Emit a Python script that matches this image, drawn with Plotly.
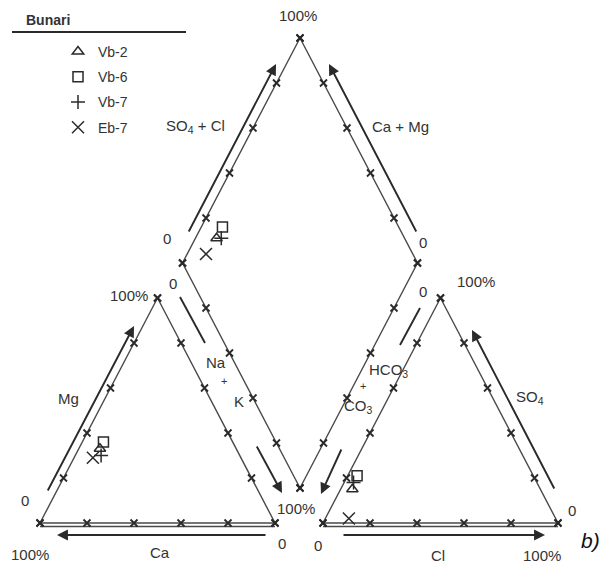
import plotly.graph_objects as go

# ---------------- data (meq %) ----------------
samples = ["Vb-2", "Vb-6", "Vb-7", "Eb-7"]
ca = [58, 55, 59, 63]
mg = [33, 36, 30, 29]
nak = [9, 9, 11, 8]
hco3 = [80, 75, 78, 88]
cl = [5, 4, 4, 10]
so4 = [15, 21, 18, 2]
tick_pcts = [0, 20, 40, 60, 80, 100]

symbols = ["triangle-up-open", "square-open", "cross-thin-open", "x-thin-open"]
sizes = [10, 10, 10, 12]

# ---------------- geometry (pixel space) ----------------
W, H = 235.0, 225.0
BASE_Y, LEFT_X0, RIGHT_X0 = 523.0, 40.0, 323.0
DIA_BX, DIA_BY = 300.0, 488.0
INK = "#2a2a2a"
FRAME = "#4a4a4a"
FONT = "Liberation Sans, Arial"
TXT = "#333333"
PAGE_PAD = 8  # default body margin of the html page


def cation_xy(c, m, n):
    t = c + m + n
    return LEFT_X0 + W * (n + m / 2) / t, BASE_Y - H * m / t


def anion_xy(h, c, s):
    t = h + c + s
    return RIGHT_X0 + W * (c + s / 2) / t, BASE_Y - H * s / t


def diamond_xy(camg, so4cl):
    return DIA_BX + W / 2 * (so4cl - camg), DIA_BY - H * (camg + so4cl)


fig = go.Figure()


def add_poly(pts, width=1.4, color=FRAME, dy=0.0):
    fig.add_trace(go.Scatter(x=[p[0] for p in pts], y=[p[1] + dy for p in pts], mode="lines",
                             line=dict(color=color, width=width), showlegend=False, hoverinfo="skip"))


lt = [cation_xy(100, 0, 0), cation_xy(0, 0, 100), cation_xy(0, 100, 0), cation_xy(100, 0, 0)]
rt = [anion_xy(100, 0, 0), anion_xy(0, 100, 0), anion_xy(0, 0, 100), anion_xy(100, 0, 0)]
dm = [diamond_xy(0, 0), diamond_xy(1, 0), diamond_xy(1, 1), diamond_xy(0, 1), diamond_xy(0, 0)]
add_poly(lt)
add_poly(rt)
add_poly(dm)
add_poly([cation_xy(100, 0, 0), cation_xy(0, 0, 100)], dy=3.5)
add_poly([anion_xy(100, 0, 0), anion_xy(0, 100, 0)], dy=3.5)

# tick marks every 20 %
tx, ty = [], []
for p in tick_pcts:
    q = 100 - p
    for pt in (cation_xy(p, 0, q), cation_xy(q, p, 0), cation_xy(0, p, q),
               anion_xy(p, q, 0), anion_xy(q, 0, p), anion_xy(0, q, p),
               diamond_xy(p / 100, 0), diamond_xy(p / 100, 1), diamond_xy(0, p / 100), diamond_xy(1, p / 100)):
        tx.append(pt[0]); ty.append(pt[1])
fig.add_trace(go.Scatter(x=tx, y=ty, mode="markers", showlegend=False, hoverinfo="skip",
                         marker=dict(symbol="x-thin", size=7, line=dict(color=INK, width=1.8))))

# samples
for i, name in enumerate(samples):
    p1 = cation_xy(ca[i], mg[i], nak[i])
    p2 = anion_xy(hco3[i], cl[i], so4[i])
    p3 = diamond_xy((ca[i] + mg[i]) / 100, (so4[i] + cl[i]) / 100)
    fig.add_trace(go.Scatter(
        x=[p1[0], p2[0], p3[0]], y=[p1[1], p2[1], p3[1]], mode="markers", name=name,
        legendgroup=name,
        marker=dict(symbol=symbols[i], size=sizes[i], color=INK, line=dict(color=INK, width=1.5))))

# arrows (tail -> head)
arrows = [
    ((47, 492), (134, 326)),   # Mg
    ((267, 535), (57, 535)),   # Ca
    ((342, 535), (545, 535)),  # Cl
    ((555, 490), (472, 330)),  # SO4
    ((188, 233), (276, 64)),   # SO4 + Cl
    ((417, 233), (329, 64)),   # Ca + Mg
    ((256, 445), (282, 493)),  # Na + K
    ((342, 448), (321, 494)),  # HCO3 + CO3
]
for (x0, y0), (x1, y1) in arrows:
    fig.add_annotation(x=x1, y=y1, ax=x0, ay=y0, xref="x", yref="y", axref="x", ayref="y",
                       text="", showarrow=True, arrowhead=2, arrowsize=1.15, arrowwidth=1.9,
                       arrowcolor=INK)
for (x0, y0), (x1, y1) in [((180, 297), (205, 343)), ((420, 308), (400, 345))]:
    fig.add_shape(type="line", x0=x0, y0=y0, x1=x1, y1=y1, xref="x", yref="y",
                  line=dict(color=INK, width=1.9))

labels = [
    ("Mg", 68, 398), ("Ca", 160, 552), ("Cl", 438, 555), ("SO<sub>4</sub>", 530, 397),
    ("SO<sub>4</sub> + Cl", 195, 126), ("Ca + Mg", 400, 126),
    ("Na", 216, 362), ("K", 239, 401),
    ("HCO<sub>3</sub>", 388, 370), ("CO<sub>3</sub>", 358, 406),
    ("0", 25, 500), ("0", 282, 543), ("0", 318, 545), ("0", 572, 510),
    ("0", 167, 238), ("0", 423, 242), ("0", 173, 283), ("0", 423, 291),
    ("100%", 30, 554), ("100%", 129, 295), ("100%", 296, 508), ("100%", 542, 555),
    ("100%", 476, 281), ("100%", 298, 15),
]
for t, x, y in labels:
    fig.add_annotation(x=x, y=y, xref="x", yref="y", text=t, showarrow=False,
                       font=dict(family=FONT, size=15, color=TXT))
for x, y in [(224, 381), (363, 386)]:
    fig.add_annotation(x=x, y=y, xref="x", yref="y", text="+", showarrow=False,
                       font=dict(family=FONT, size=11, color=TXT))

fig.add_annotation(x=590, y=540, xref="x", yref="y", text="<i>b)</i>", showarrow=False,
                   font=dict(family=FONT, size=21, color="#111111"))
fig.add_annotation(x=48, y=20, xref="x", yref="y", text="<b>Bunari</b>", showarrow=False,
                   font=dict(family=FONT, size=14, color=TXT))
fig.add_shape(type="line", x0=12, y0=32, x1=186, y1=32, xref="x", yref="y",
              line=dict(color=INK, width=2))

VIEW_W, VIEW_H = 610, 574
fig.update_layout(
    width=VIEW_W - PAGE_PAD, height=VIEW_H - PAGE_PAD, margin=dict(l=0, r=0, t=0, b=0),
    paper_bgcolor="white", plot_bgcolor="white",
    xaxis=dict(range=[PAGE_PAD, VIEW_W], visible=False, fixedrange=True),
    yaxis=dict(range=[VIEW_H, PAGE_PAD], visible=False, fixedrange=True),
    showlegend=True,
    legend=dict(x=(58 - PAGE_PAD) / (VIEW_W - PAGE_PAD), y=1 - (36 - PAGE_PAD) / (VIEW_H - PAGE_PAD),
                xanchor="left", yanchor="top",
                bgcolor="rgba(0,0,0,0)", font=dict(family=FONT, size=14, color=TXT),
                traceorder="grouped", tracegroupgap=4, itemsizing="trace"),
)

fig.write_html("out.html")
